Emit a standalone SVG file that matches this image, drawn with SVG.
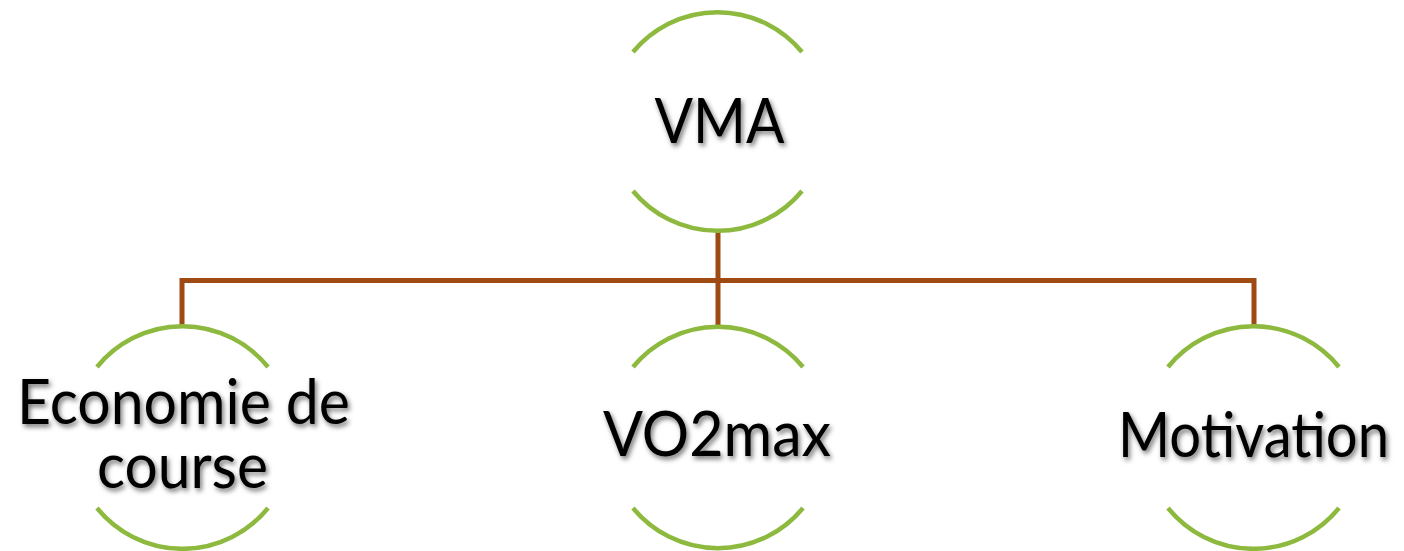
<svg xmlns="http://www.w3.org/2000/svg" width="1404" height="551" viewBox="0 0 1404 551">
<defs>
<filter id="sh" x="-10%" y="-20%" width="130%" height="160%">
<feDropShadow dx="2" dy="3" stdDeviation="2.5" flood-color="#000" flood-opacity="0.55"/>
</filter>
<style>
.arc{fill:none;stroke:#8DB93F;stroke-width:4.5}
.conn{fill:none;stroke:#9E4A12;stroke-width:5;stroke-linejoin:miter}
.lbl{font-family:Lato,"Open Sans","Liberation Sans",sans-serif;font-size:61px;fill:#000;text-anchor:middle;filter:url(#sh)}
</style>
</defs>
<rect width="1404" height="551" fill="#fff"/>
<g id="connectors">
<path class="conn" d="M718 231 V325"/>
<path class="conn" d="M182 325 V280.5 H1254 V325"/>
</g>
<g id="node-vma">
<path class="arc" d="M633 52 A109.5 109.5 0 0 1 802 52"/>
<path class="arc" d="M633 191 A109.5 109.5 0 0 0 802 191"/>
<text class="lbl" x="719.5" y="143" textLength="130" lengthAdjust="spacingAndGlyphs">VMA</text>
</g>
<g id="node-economie">
<path class="arc" d="M97 367 A110 110 0 0 1 268 367"/>
<path class="arc" d="M97 508 A110 110 0 0 0 268 508"/>
<text class="lbl" x="183.5" y="424" textLength="333" lengthAdjust="spacingAndGlyphs">Economie de</text>
<text class="lbl" x="182.5" y="488" textLength="171" lengthAdjust="spacingAndGlyphs">course</text>
</g>
<g id="node-vo2max">
<path class="arc" d="M633 367 A110 110 0 0 1 803 367"/>
<path class="arc" d="M633 508 A110 110 0 0 0 803 508"/>
<text class="lbl" x="717" y="456" textLength="228" lengthAdjust="spacingAndGlyphs">VO2max</text>
</g>
<g id="node-motivation">
<path class="arc" d="M1168 367 A110 110 0 0 1 1339 367"/>
<path class="arc" d="M1168 508 A110 110 0 0 0 1339 508"/>
<text class="lbl" x="1253.5" y="457" textLength="271" lengthAdjust="spacingAndGlyphs">Motivation</text>
</g>
</svg>
